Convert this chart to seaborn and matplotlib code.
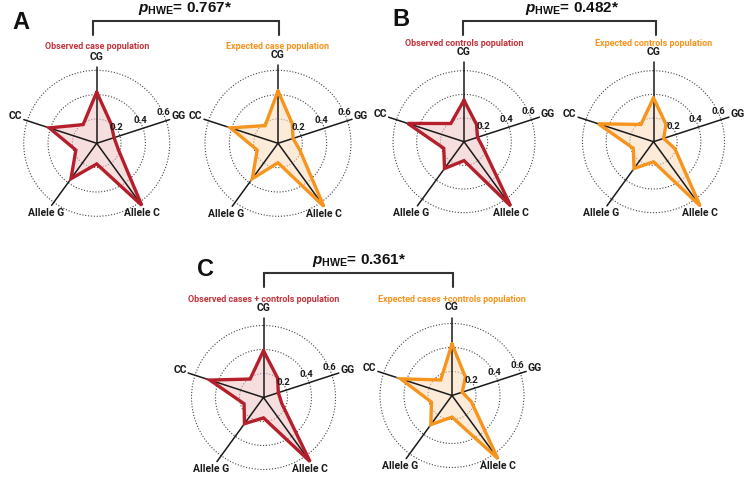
import numpy as np
import matplotlib
matplotlib.use("Agg")
import matplotlib.pyplot as plt
from matplotlib.lines import Line2D
import seaborn as sns
import pandas as pd

# ---------------- data ----------------
axis_labels = ["CG", "GG", "Allele C", "Allele G", "CC"]
# values on labelled axes (CG, GG, Allele C, Allele G, CC)
# and on the unlabelled half-way directions (after each labelled axis, clockwise)
a_obs_main = [0.42, 0.15, 0.63, 0.36, 0.41]
a_obs_mid = [0.20, 0.19, 0.17, 0.18, 0.19]
a_exp_main = [0.43, 0.13, 0.64, 0.36, 0.41]
a_exp_mid = [0.20, 0.19, 0.16, 0.18, 0.18]
b_obs_main = [0.35, 0.12, 0.67, 0.28, 0.50]
b_obs_mid = [0.18, 0.17, 0.16, 0.18, 0.19]
b_exp_main = [0.37, 0.09, 0.67, 0.28, 0.49]
b_exp_mid = [0.18, 0.19, 0.17, 0.18, 0.18]
c_obs_main = [0.39, 0.13, 0.66, 0.27, 0.47]
c_obs_mid = [0.20, 0.16, 0.17, 0.17, 0.19]
c_exp_main = [0.43, 0.09, 0.65, 0.30, 0.45]
c_exp_mid = [0.19, 0.17, 0.18, 0.18, 0.16]

ring_ticks = [0.2, 0.4, 0.6]
ring_tick_labels = ["0.2", "0.4", "0.6"]
panel_letters = ["A", "B", "C"]
p_values = ["0.767", "0.482", "0.361"]
titles = ["Observed case population", "Expected case population",
          "Observed controls population", "Expected controls population",
          "Observed cases + controls population", "Expected cases +controls population"]

# ---------------- style ----------------
sns.set_theme(style="white")
plt.rcParams["font.family"] = ["Roboto", "DejaVu Sans"]
plt.rcParams["mathtext.fontset"] = "custom"
plt.rcParams["mathtext.rm"] = "Liberation Sans:bold"
plt.rcParams["mathtext.bf"] = "Liberation Sans:bold"
plt.rcParams["mathtext.it"] = "Liberation Sans:italic:bold"

RED = "#b41f2b"
RED_T = "#c3343c"
ORANGE = "#f7941d"
RED_FILL = "#f2c4c4"
OR_FILL = "#fcdcbc"

W, H = 754, 492
fig = plt.figure(figsize=(W / 100, H / 100), dpi=100)
fig.patch.set_facecolor("white")

YMAX = 0.75
PX = 0.72  # points per pixel

n = 10
theta = np.arange(n) * 2 * np.pi / n
label_theta = theta[::2]

label_style = {
    "CG": dict(off=(0, 10), ha="center"),
    "GG": dict(off=(1.5, 3.5), ha="left"),
    "Allele C": dict(off=(0, -7.5), ha="center"),
    "Allele G": dict(off=(-6, -7.5), ha="center"),
    "CC": dict(off=(-1.5, 3.5), ha="right"),
}

charts = [
    (96.7, 143.3, 73, a_obs_main, a_obs_mid, RED, RED_FILL, RED_T, titles[0], 46.5),
    (278.0, 143.3, 73, a_exp_main, a_exp_mid, ORANGE, OR_FILL, ORANGE, titles[1], 46.5),
    (464.0, 141.7, 71, b_obs_main, b_obs_mid, RED, RED_FILL, RED_T, titles[2], 43.5),
    (653.5, 141.7, 71, b_exp_main, b_exp_mid, ORANGE, OR_FILL, ORANGE, titles[3], 43.5),
    (263.5, 397.5, 72, c_obs_main, c_obs_mid, RED, RED_FILL, RED_T, titles[4], 299.5),
    (452.0, 395.5, 72, c_exp_main, c_exp_mid, ORANGE, OR_FILL, ORANGE, titles[5], 299.5),
]

for cx, cy, R, main, mid, col, fcol, tcol, title, ty in charts:
    Ra = R * YMAX / 0.6
    ax = fig.add_axes([(cx - Ra) / W, (H - cy - Ra) / H, 2 * Ra / W, 2 * Ra / H],
                      projection="polar")
    ax.set_theta_offset(np.pi / 2)
    ax.set_theta_direction(-1)
    spoke = max(0.62, max(main))
    vals = []
    for m, b in zip(main, mid):
        vals += [m, b]
    th = np.append(theta, 2 * np.pi)
    rr = np.append(vals, vals[0])
    df = pd.DataFrame({"theta": th, "r": rr})
    ax.fill(df["theta"], df["r"], color=fcol, alpha=0.55, lw=0, zorder=1)
    for t in label_theta:
        ax.plot([t, t], [0, spoke], color="#1a1a1a", lw=1.1, zorder=2)
    sns.lineplot(data=df, x="theta", y="r", sort=False, estimator=None, ax=ax,
                 color=col, linewidth=2.4, solid_joinstyle="miter", zorder=3)
    ax.set_xlabel("")
    ax.set_ylabel("")
    ax.set_ylim(0, YMAX)
    ax.set_xticks([])
    ax.set_yticks(ring_ticks)
    ax.set_yticklabels([])
    ax.yaxis.grid(True, color="#444444", linestyle=(0, (1, 1.6)), linewidth=0.8)
    ax.xaxis.grid(False)
    ax.spines["polar"].set_visible(False)
    ax.set_facecolor("none")
    for lab, t in zip(axis_labels, label_theta):
        st = label_style[lab]
        ax.annotate(lab, xy=(t, spoke), xytext=(st["off"][0] * PX, st["off"][1] * PX),
                    textcoords="offset points", ha=st["ha"], va="center",
                    fontsize=7.5, fontweight="bold", color="#1a1a1a",
                    annotation_clip=False)
    for r, lab in zip(ring_ticks, ring_tick_labels):
        ax.annotate(lab, xy=(label_theta[1], r), xytext=(-3 * PX, 8 * PX),
                    textcoords="offset points", ha="center", va="center",
                    fontsize=6.8, fontweight="bold", color="#1a1a1a",
                    annotation_clip=False)
    fig.text(cx / W, 1 - ty / H, title, ha="center", va="center", fontsize=6.5,
             fontweight="semibold", color=tcol)

# brackets, p-values, panel letters
brackets = [(93, 279, 21, 35, 185, 8.5), (463, 656, 21, 35, 572, 8.5),
            (264, 453, 272.7, 286.7, 359.5, 260.7)]
for (x0, x1, yt, yb, tx, tyy), pv in zip(brackets, p_values):
    xs = [x0 / W, x0 / W, x1 / W, x1 / W]
    ys = [1 - yb / H, 1 - yt / H, 1 - yt / H, 1 - yb / H]
    fig.add_artist(Line2D(xs, ys, color="#333333", lw=1.5, solid_joinstyle="miter"))
    fig.text(tx / W, 1 - tyy / H, r"$\mathit{p}_{\mathbf{HWE}}$= " + pv + "*",
             ha="center", va="center", fontsize=11, fontweight="bold",
             family="Liberation Sans", color="#111111")

for lab, (lx, ly) in zip(panel_letters, [(21, 22.5), (401, 20), (206, 270)]):
    fig.text(lx / W, 1 - ly / H, lab, ha="center", va="center", fontsize=17,
             fontweight="bold", family="Liberation Sans", color="#111111")

fig.savefig("out.png", dpi=100, facecolor="white")
